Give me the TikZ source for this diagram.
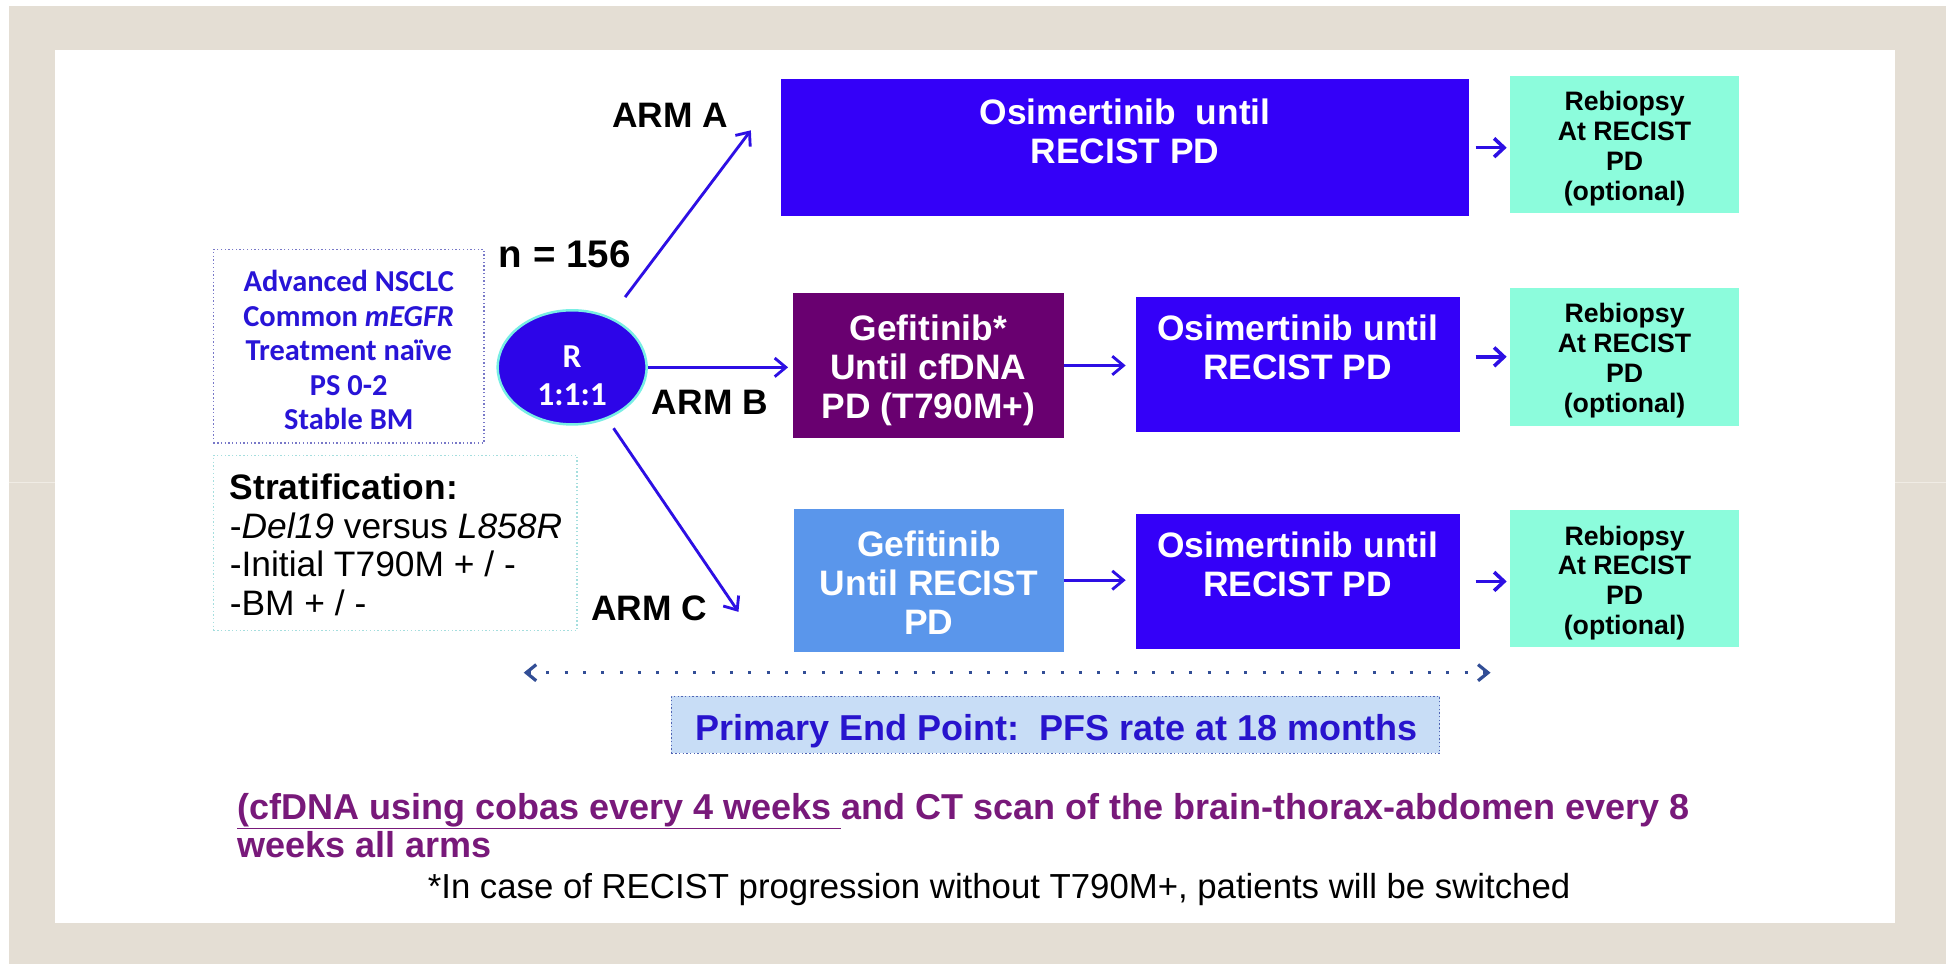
\documentclass[tikz,border=0pt]{standalone}
\usepackage{fontspec}
\setmainfont{Liberation Sans}
\newfontfamily\carl{Carlito}
\usetikzlibrary{shapes.geometric,arrows.meta}
\definecolor{beige}{RGB}{228,222,212}
\definecolor{beigeline}{RGB}{240,236,229}
\definecolor{armblue}{RGB}{52,0,248}
\definecolor{circblue}{RGB}{45,5,232}
\definecolor{aqua}{RGB}{120,238,228}
\definecolor{arrblue}{RGB}{45,15,228}
\definecolor{gefpurple}{RGB}{105,0,112}
\definecolor{geflight}{RGB}{90,150,235}
\definecolor{rebio}{RGB}{140,252,220}
\definecolor{critblue}{RGB}{40,20,215}
\definecolor{critborder}{RGB}{120,120,200}
\definecolor{stratborder}{RGB}{165,222,222}
\definecolor{pefill}{RGB}{200,221,246}
\definecolor{peborder}{RGB}{80,100,180}
\definecolor{petext}{RGB}{40,20,205}
\definecolor{dotblue}{RGB}{50,78,150}
\definecolor{notepurple}{RGB}{120,25,122}
\begin{document}
\begin{tikzpicture}[x=1pt,y=-1pt,
  fillbox/.style={inner sep=0pt, outer sep=0pt, draw=none},
  boxtxt/.style={inner sep=0pt, align=center, text=white,
    font=\bfseries\fontsize{28.5}{31.5}\selectfont},
  rebtxt/.style={inner sep=0pt, align=center, text=black,
    font=\bfseries\fontsize{21.5}{24}\selectfont},
  armlbl/.style={inner sep=0pt, font=\bfseries\fontsize{28.5}{30}\selectfont},
  arr/.style={draw=arrblue, line width=2.3pt,
    -{Straight Barb[length=9pt,width=15pt]}},
  sarr/.style={draw=arrblue, line width=2.9pt,
    -{Straight Barb[length=8pt,width=15pt]}},
  dotarr/.style={draw=dotblue, line width=2.4pt, dash pattern=on 2.4pt off 12.4pt,
    {Straight Barb[length=8pt,width=13pt,line width=2.6pt]}-{Straight Barb[length=8pt,width=13pt,line width=2.6pt]}},
  finedot/.style={line width=1.1pt, dash pattern=on 1.1pt off 1.9pt}
]
\useasboundingbox (0,0) rectangle (1568,777);
% frame
\fill[white] (0,0) rectangle (1568,777);
\fill[beige] (7,5) rectangle (1568,777);
\fill[white] (44,40) rectangle (1527,744);
\draw[beigeline, line width=1pt] (7,389) -- (44,389);
\draw[beigeline, line width=1pt] (1527,389) -- (1568,389);

% inclusion criteria
\node[fillbox, draw=critborder, finedot, minimum width=218pt, minimum height=156pt] (crit) at (281,279) {};
\node[inner sep=0pt, align=center, text=critblue, anchor=north,
  font=\carl\bfseries\fontsize{24.5}{27.7}\selectfont] (critT) at (crit.north)
  {\rule{0pt}{34pt}Advanced NSCLC\\Common \textit{mEGFR}\\Treatment naïve\\PS 0-2\\Stable BM};

% stratification
\node[fillbox, draw=stratborder, finedot, minimum width=293pt, minimum height=141pt] (strat) at (318.5,437.5) {};
\node[inner sep=0pt, align=left, anchor=north west,
  font=\fontsize{28.5}{31.3}\selectfont] (stratT) at (185,367)
  {\rule{0pt}{35pt}\textbf{Stratification:}\\-\textit{Del19} versus \textit{L858R}\\-Initial T790M + / -\\-BM + / -};

% randomisation
\node[ellipse, fill=circblue, draw=aqua, line width=2pt, minimum width=120pt, minimum height=92pt,
  inner sep=0pt] (R) at (461,296) {};
\node[inner sep=0pt, text=white, align=center, anchor=north,
  font=\carl\bfseries\fontsize{27}{31}\selectfont] (Rt) at (461,278) {\rule{0pt}{14pt}R\\1:1:1};
\node[inner sep=0pt, font=\bfseries\fontsize{31}{32}\selectfont] (n) at (455,205) {n = 156};

% arm A
\node[fillbox, fill=armblue, minimum width=555pt, minimum height=110pt] (A) at (906.5,119) {};
\node[boxtxt, anchor=north] (At) at (A.north) {\rule{0pt}{36pt}Osimertinib\ \ until\\RECIST PD};
% arm B
\node[fillbox, fill=gefpurple, minimum width=218pt, minimum height=117pt] (B1) at (748,294.5) {};
\node[boxtxt, anchor=north] (B1t) at (B1.north) {\rule{0pt}{38pt}Gefitinib*\\Until cfDNA\\PD (T790M+)};
\node[fillbox, fill=armblue, minimum width=261pt, minimum height=109pt] (B2) at (1045.5,293.5) {};
\node[boxtxt, anchor=north] (B2t) at (B2.north) {\rule{0pt}{35pt}Osimertinib until\\RECIST PD};
% arm C
\node[fillbox, fill=geflight, minimum width=217pt, minimum height=115pt] (C1) at (748.5,467.5) {};
\node[boxtxt, anchor=north] (C1t) at (C1.north) {\rule{0pt}{38pt}Gefitinib\\Until RECIST\\PD};
\node[fillbox, fill=armblue, minimum width=261pt, minimum height=109pt] (C2) at (1045.5,468.5) {};
\node[boxtxt, anchor=north] (C2t) at (C2.north) {\rule{0pt}{35pt}Osimertinib until\\RECIST PD};

% rebiopsy
\node[fillbox, fill=rebio, minimum width=184pt, minimum height=111pt] (RA) at (1309,116.5) {};
\node[rebtxt, anchor=north] (RAt) at (RA.north) {\rule{0pt}{28pt}Rebiopsy\\At RECIST\\PD\\(optional)};
\node[fillbox, fill=rebio, minimum width=184pt, minimum height=111pt] (RB) at (1309,287.5) {};
\node[rebtxt, anchor=north] (RBt) at (RB.north) {\rule{0pt}{28pt}Rebiopsy\\At RECIST\\PD\\(optional)};
\node[fillbox, fill=rebio, minimum width=184pt, minimum height=110pt] (RC) at (1309,466) {};
\node[rebtxt, anchor=north] (RCt) at (RC.north) {\rule{0pt}{28pt}Rebiopsy\\At RECIST\\PD\\(optional)};

% arm labels
\node[armlbl] (lA) at (540,93) {ARM A};
\node[armlbl] (lB) at (572,324) {ARM B};
\node[armlbl] (lC) at (523,490) {ARM C};

% randomisation arrows
\coordinate (aEnd) at (605,105);
\coordinate (cEnd) at (595,493);
\draw[arr, shorten <=20pt] (R) -- (aEnd);
\draw[arr, shorten <=9pt] (R) -- (cEnd);
\draw[arr, shorten >=4pt] (R.east) -- (R.east -| B1.west);
% sequence arrows
\draw[arr, shorten >=8pt] (B1.east) -- (B1.east -| B2.west);
\draw[arr, shorten >=8pt] (C1.east) -- (C1.east -| C2.west);
\draw[sarr, shorten <=5pt, shorten >=3pt] (A.east) -- (A.east -| RA.west);
\draw[sarr, shorten <=13pt, shorten >=3pt] (B2.east |- RB.west) -- (RB.west);
\draw[sarr, shorten <=13pt, shorten >=3pt] (C2.east) -- (C2.east -| RC.west);

% dotted span
\coordinate (dL) at (422,542);
\coordinate (dR) at (1201,542);
\draw[dotarr] (dL) -- (dR);

% primary end point
\node[fillbox, fill=pefill, draw=peborder, finedot, minimum width=619pt, minimum height=46pt] (PE) at (850.5,584) {};
\node[inner sep=0pt, anchor=base west, text=petext, font=\bfseries\fontsize{29}{30}\selectfont] (PEt) at (560,597)
  {Primary End Point:\ \ PFS rate at 18 months};

% notes
\node[inner sep=0pt, anchor=base west, text=notepurple, font=\bfseries\fontsize{29}{30}\selectfont] (note1) at (191,660)
  {\underline{(cfDNA using cobas every 4 weeks\ }and CT scan of the brain-thorax-abdomen every 8};
\node[inner sep=0pt, anchor=base west, text=notepurple, font=\bfseries\fontsize{29}{30}\selectfont] (note2) at (191,691)
  {weeks all arms};
\node[inner sep=0pt, anchor=base, font=\fontsize{28}{30}\selectfont] (note3) at (805,724)
  {*In case of RECIST progression without T790M+, patients will be switched};
\end{tikzpicture}
\end{document}
